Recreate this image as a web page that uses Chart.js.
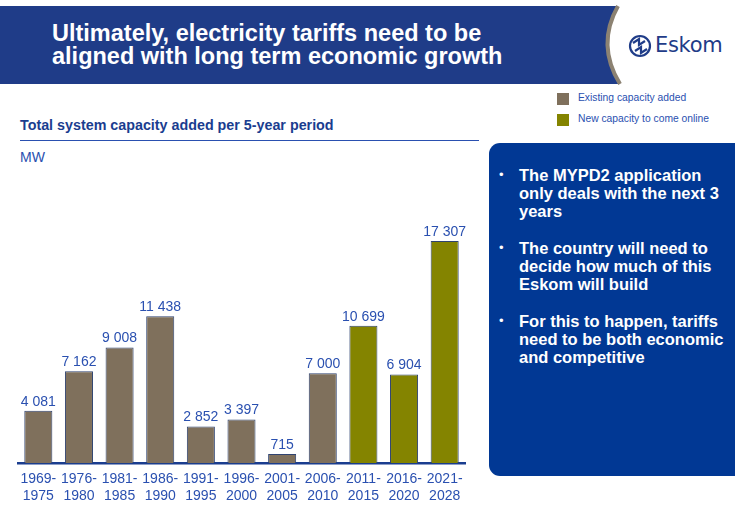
<!DOCTYPE html>
<html>
<head>
<meta charset="utf-8">
<script src="https://cdn.jsdelivr.net/npm/chart.js@4.4.0/dist/chart.umd.min.js"></script>
<style>
  body { margin: 0; background: #fff; font-family: "Liberation Sans", Arial, sans-serif; }
  #page { position: relative; width: 735px; height: 506px; overflow: hidden; }
  #header { position: absolute; left: 0; top: 0; }
  #title { position: absolute; left: 52px; top: 22px; color: #fff; font-weight: bold; font-size: 23.5px; line-height: 23px; }
  #brand { position: absolute; left: 655px; top: 33px; color: #1f3c88; font-family: "DejaVu Sans", sans-serif; font-size: 21px; letter-spacing: -0.3px; }
  .legend { position: absolute; left: 557px; font-size: 10.3px; color: #2a50b0; }
  .legend span { position: absolute; left: 0; top: 0; width: 12px; height: 12px; }
  .legend div { position: absolute; left: 21px; top: -1px; white-space: nowrap; }
  #chartTitle { position: absolute; left: 20px; top: 117px; font-size: 14.3px; font-weight: bold; color: #1a3d8f; }
  #rule { position: absolute; left: 20px; top: 140px; width: 459px; height: 1px; background: #2a50b0; }
  #unit { position: absolute; left: 20px; top: 149px; font-size: 14px; color: #2a50b0; }
  #wrap { position: absolute; left: 0; top: 160px; width: 480px; height: 352px; }
  #panel { position: absolute; left: 489px; top: 143px; width: 270px; height: 333px; background: #013894; border-radius: 11px; }
  #panel ul { margin: 0; padding: 0; list-style: none; position: absolute; left: 10px; top: 23px; width: 232px; }
  #panel li { position: relative; padding-left: 20px; color: #fff; font-weight: bold; font-size: 16.5px; line-height: 18px; margin-bottom: 19px; }
  #panel li::before { content: "\2022"; position: absolute; left: 0; top: 0; font-weight: normal; font-size: 13px; }
</style>
</head>
<body>
<div id="page">
  <svg id="header" width="735" height="90">
    <path d="M0 6 H618 Q596 45 620 84 H0 Z" fill="#1f3c88"/>
    <path d="M618 6 Q596 45 620 84" fill="none" stroke="#8c8272" stroke-width="4"/>
    <g transform="translate(640,46)" fill="none" stroke="#1f3c88" stroke-width="2.2">
      <circle r="10"/>
      <path d="M-7 -3 L-1 -7 L-1 -1 L5 -5"/>
      <path d="M-5 5 L1 1 L1 7 L7 3"/>
    </g>
  </svg>
  <div id="title">Ultimately, electricity tariffs need to be<br>aligned with long term economic growth</div>
  <div id="brand">Eskom</div>

  <div class="legend" style="top:93px"><span style="background:#7f705c"></span><div>Existing capacity added</div></div>
  <div class="legend" style="top:114px"><span style="background:#848400"></span><div>New capacity to come online</div></div>

  <div id="chartTitle">Total system capacity added per 5-year period</div>
  <div id="rule"></div>
  <div id="unit">MW</div>

  <div id="wrap"><canvas id="capacityChart" width="480" height="352"></canvas></div>

  <div id="panel">
    <ul>
      <li>The MYPD2 application only deals with the next 3 years</li>
      <li>The country will need to decide how much of this Eskom will build</li>
      <li>For this to happen, tariffs need to be both economic and competitive</li>
    </ul>
  </div>
</div>

<script>
// periods on the x axis (two-line labels)
const periods = [
  ["1969-", "1975"], ["1976-", "1980"], ["1981-", "1985"], ["1986-", "1990"],
  ["1991-", "1995"], ["1996-", "2000"], ["2001-", "2005"], ["2006-", "2010"],
  ["2011-", "2015"], ["2016-", "2020"], ["2021-", "2028"]
];
// MW added per period
const existingCapacity = [4081, 7162, 9008, 11438, 2852, 3397, 715, 7000, null, null, null];
const newCapacity = [null, null, null, null, null, null, null, null, 10699, 6904, 17307];

const textBlue = "#2a50b0";

// "4081" -> "4 081"
function fmt(v) {
  return String(v).replace(/\B(?=(\d{3})+(?!\d))/g, " ");
}

// value written above each bar
const valueLabels = {
  id: "valueLabels",
  afterDatasetsDraw(chart) {
    const ctx = chart.ctx;
    ctx.save();
    ctx.font = '14px "Liberation Sans", Arial, sans-serif';
    ctx.fillStyle = textBlue;
    ctx.textAlign = "center";
    ctx.textBaseline = "bottom";
    chart.data.datasets.forEach((ds, i) => {
      chart.getDatasetMeta(i).data.forEach((bar, j) => {
        const v = ds.data[j];
        if (v == null) return;
        ctx.fillText(fmt(v), bar.x, bar.y - 2);
      });
    });
    ctx.restore();
  }
};

const ctx = document.getElementById("capacityChart").getContext("2d");
new Chart(ctx, {
  type: "bar",
  data: {
    labels: periods,
    datasets: [
      {
        label: "Existing capacity added",
        data: existingCapacity,
        backgroundColor: "#7f705c",
        borderColor: "#2f4370",
        borderWidth: 1,
      },
      {
        label: "New capacity to come online",
        data: newCapacity,
        backgroundColor: "#848400",
        borderColor: "#2f4370",
        borderWidth: 1,
      },
    ],
  },
  options: {
    responsive: false,
    animation: false,
    layout: { padding: { left: 18, right: 15, top: 46.4, bottom: 0 } },
    datasets: { bar: { barPercentage: 1, categoryPercentage: 0.69 } },
    scales: {
      x: {
        stacked: true,
        grid: { display: false, drawTicks: false },
        border: { display: true, color: "#1a3d8f", width: 2.5 },
        ticks: {
          color: textBlue,
          padding: 8,
          maxRotation: 0,
          autoSkip: false,
          font: { family: '"Liberation Sans", Arial, sans-serif', size: 14, lineHeight: 1.17 },
        },
      },
      y: {
        stacked: true,
        display: false,
        min: 0,
        max: 20000,
      },
    },
    plugins: {
      legend: { display: false },
      tooltip: { enabled: false },
    },
  },
  plugins: [valueLabels],
});
</script>
</body>
</html>
